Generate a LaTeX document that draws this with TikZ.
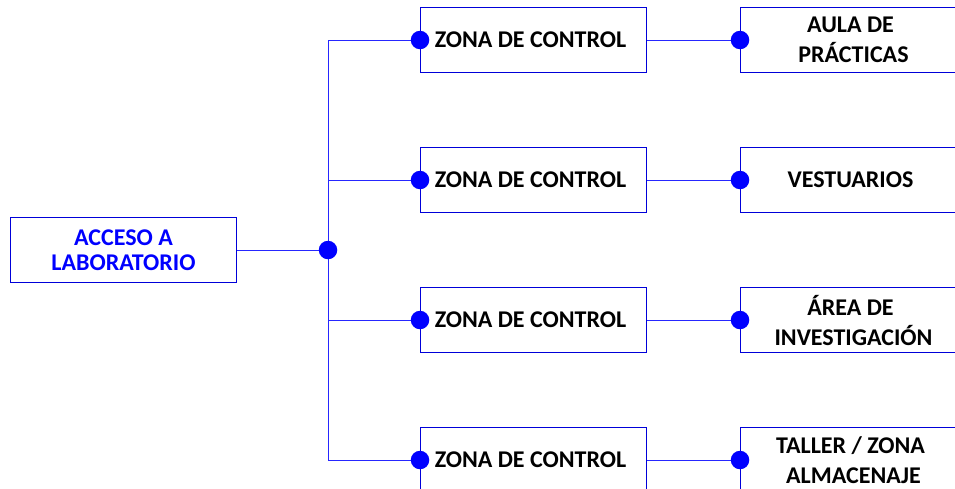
\documentclass[tikz,border=0pt]{standalone}
\usepackage{fontspec}
\setmainfont{Carlito}
\begin{document}
\begin{tikzpicture}[x=1pt,y=-1pt,
  box/.style={draw=blue!85!black,line width=1pt,minimum width=226pt,minimum height=65pt,inner sep=0pt,anchor=north west,align=center,font=\fontsize{24}{30}\selectfont\bfseries},
  link/.style={draw=blue!85!white,line width=1pt},
  dotc/.style={circle,fill=blue,inner sep=0pt,minimum size=18.5pt}]
\useasboundingbox (0,0) rectangle (955,488);
\clip (0,0) rectangle (955,488);
\node[box,text=blue,font=\fontsize{24}{25}\selectfont\bfseries] (acc) at (10,217) {ACCESO A\\LABORATORIO};
\coordinate (hub) at (328,250);
\foreach \i/\y/\t in {1/7/{AULA DE\\PRÁCTICAS},2/147/{VESTUARIOS},3/287/{ÁREA DE\\INVESTIGACIÓN},4/427/{TALLER / ZONA\\ALMACENAJE}}{
  \node[box] (z\i) at (420,\y) {\hspace*{-6pt}ZONA DE CONTROL};
  \node[box] (r\i) at (740,\y) {\hspace*{-6pt}\t};
  \coordinate (b\i) at (328,\y+33);
  \draw[link] (hub) -- (b\i) -- (z\i.west);
  \draw[link] (z\i.east) -- (r\i.west);
  \node[dotc] (dz\i) at (z\i.west) {};
  \node[dotc] (dr\i) at (r\i.west) {};
}
\draw[link] (acc.east) -- (hub);
\node[dotc] (dh) at (hub) {};
\end{tikzpicture}
\end{document}
